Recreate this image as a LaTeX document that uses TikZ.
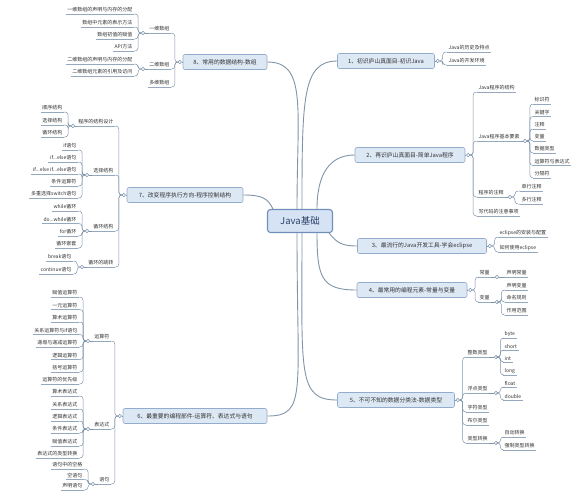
\documentclass[tikz,border=0pt]{standalone}
\usepackage{fontspec}
\setmainfont{Noto Sans CJK SC}
\usetikzlibrary{calc}
\definecolor{lcol}{RGB}{128,148,172}
\definecolor{ucol}{RGB}{150,168,190}
\definecolor{tfill}{RGB}{221,232,245}
\definecolor{tborder}{RGB}{148,172,204}
\definecolor{cfill}{RGB}{214,227,244}
\definecolor{cborder}{RGB}{112,142,186}
\definecolor{ctext}{RGB}{45,65,105}
\definecolor{ttext}{RGB}{50,50,50}
\begin{document}
\begin{tikzpicture}[x=1pt,y=-1pt,
  every node/.style={text=ttext},
  ctr/.style={draw=cborder, line width=1.1pt, fill=cfill, rounded corners=3pt, font=\fontsize{9.5}{11}\selectfont, text=ctext, minimum width=65pt, minimum height=23pt, inner sep=0pt},
  topic/.style={draw=tborder, line width=0.6pt, fill=tfill, rounded corners=2pt, font=\fontsize{5.8}{7}\selectfont, minimum height=15pt, inner sep=0pt},
  uline/.style={draw=ucol, line width=0.5pt},
  sub/.style={font=\fontsize{5}{6}\selectfont, inner xsep=1.5pt, inner ysep=1.5pt, append after command={(\tikzlastnode.south west) edge[uline] (\tikzlastnode.south east)}},
  sr/.style={sub, anchor=south west},
  sl/.style={sub, anchor=south east},
  knob/.style={circle, draw=lcol, fill=white, line width=0.4pt, inner sep=0pt, minimum size=3.5pt},
  link/.style={draw=lcol, line width=0.5pt, rounded corners=3pt},
  mainlink/.style={draw=lcol, line width=0.9pt},
]
\fill[white] (0,0) rectangle (588,491);
\useasboundingbox (0,0) rectangle (588,491);

% centre
\node[ctr] (c) at (300,221) {Java基础};

% ---------------- branch 1
\node[topic, minimum width=97pt] (b1) at (386,61) {1、初识庐山真面目-初识Java};
\node[knob, anchor=west] (k1) at ($(b1.east)+(1,0)$) {};
\draw[link] (b1.east) -- (k1.west);
\node[sr] (c11) at (447,52) {Java的历史及特点};
\node[sr] (c12) at (447,65) {Java的开发环境};
\foreach \n in {c11,c12} \draw[link] (k1.east) -- ++(3,0) |- (\n.south west);

% ---------------- branch 2
\node[topic, minimum width=110pt] (b2) at (410,155) {2、再识庐山真面目-简单Java程序};
\node[knob, anchor=west] (k2) at ($(b2.east)+(1,0)$) {};
\draw[link] (b2.east) -- (k2.west);
\node[sr] (c21) at (477,92) {Java程序的结构};
\node[sr] (c22) at (477,141) {Java程序基本要素};
\node[sr] (c23) at (477,197) {程序的注释};
\node[sr] (c24) at (477,216) {写代码的注意事项};
\foreach \n in {c21,c22,c23,c24} \draw[link] (k2.east) -- ++(3,0) |- (\n.south west);
\node[knob] (k22) at (525,141) {};
\draw[link] (c22.south east) -- (k22.west);
\node[sr] (g221) at (533,104) {标识符};
\node[sr] (g222) at (533,116.5) {关键字};
\node[sr] (g223) at (533,129) {注释};
\node[sr] (g224) at (533,141) {变量};
\node[sr] (g225) at (533,153) {数据类型};
\node[sr] (g226) at (533,165.5) {运算符与表达式};
\node[sr] (g227) at (533,178) {分隔符};
\foreach \n in {g221,g222,g223,g224,g225,g226,g227} \draw[link] (k22.east) -- ++(3,0) |- (\n.south west);
\node[knob] (k23) at (510,197) {};
\draw[link] (c23.south east) -- (k23.west);
\node[sr] (g231) at (520,191) {单行注释};
\node[sr] (g232) at (520,204) {多行注释};
\foreach \n in {g231,g232} \draw[link] (k23.east) -- ++(3,0) |- (\n.south west);

% ---------------- branch 3
\node[topic, minimum width=129pt] (b3) at (422,246) {3、最流行的Java开发工具-学会eclipse};
\node[knob, anchor=west] (k3) at ($(b3.east)+(1,0)$) {};
\draw[link] (b3.east) -- (k3.west);
\node[sr] (c31) at (498,237) {eclipse的安装与配置};
\node[sr] (c32) at (498,252) {如何使用eclipse};
\foreach \n in {c31,c32} \draw[link] (k3.east) -- ++(3,0) |- (\n.south west);

% ---------------- branch 4
\node[topic, minimum width=110pt] (b4) at (412,290) {4、最常用的编程元素-常量与变量};
\node[knob, anchor=west] (k4) at ($(b4.east)+(1,0)$) {};
\draw[link] (b4.east) -- (k4.west);
\node[sr] (c41) at (478,277) {常量};
\node[sr] (c42) at (478,302) {变量};
\foreach \n in {c41,c42} \draw[link] (k4.east) -- ++(3,0) |- (\n.south west);
\node[knob] (k41) at (497,277) {};
\draw[link] (c41.south east) -- (k41.west);
\node[sr] (g411) at (505,277) {声明常量};
\draw[link] (k41.east) -- (g411.south west);
\node[knob] (k42) at (497,302) {};
\draw[link] (c42.south east) -- (k42.west);
\node[sr] (g421) at (505,290) {声明变量};
\node[sr] (g422) at (505,302) {命名规则};
\node[sr] (g423) at (505,315) {作用范围};
\foreach \n in {g421,g422,g423} \draw[link] (k42.east) -- ++(2.5,0) |- (\n.south west);

% ---------------- branch 5
\node[topic, minimum width=117pt] (b5) at (396,400) {5、不可不知的数据分类法-数据类型};
\node[knob, anchor=west] (k5) at ($(b5.east)+(1,0)$) {};
\draw[link] (b5.east) -- (k5.west);
\node[sr] (c51) at (466,357) {整数类型};
\node[sr] (c52) at (466,393) {浮点类型};
\node[sr] (c53) at (466,412) {字符类型};
\node[sr] (c54) at (466,425) {布尔类型};
\node[sr] (c55) at (466,443) {类型转换};
\foreach \n in {c51,c52,c53,c54,c55} \draw[link] (k5.east) -- ++(3,0) |- (\n.south west);
\node[knob] (k51) at (496,357) {};
\draw[link] (c51.south east) -- (k51.west);
\node[sr] (g511) at (503,338) {byte};
\node[sr] (g512) at (503,350) {short};
\node[sr] (g513) at (503,362) {int};
\node[sr] (g514) at (503,375) {long};
\foreach \n in {g511,g512,g513,g514} \draw[link] (k51.east) -- ++(2.5,0) |- (\n.south west);
\node[knob] (k52) at (496,393) {};
\draw[link] (c52.south east) -- (k52.west);
\node[sr] (g521) at (503,387) {float};
\node[sr] (g522) at (503,400) {double};
\foreach \n in {g521,g522} \draw[link] (k52.east) -- ++(2.5,0) |- (\n.south west);
\node[knob] (k55) at (496,443) {};
\draw[link] (c55.south east) -- (k55.west);
\node[sr] (g551) at (503,437) {自动转换};
\node[sr] (g552) at (503,450) {强制类型转换};
\foreach \n in {g551,g552} \draw[link] (k55.east) -- ++(2.5,0) |- (\n.south west);

% ---------------- branch 8
\node[topic, minimum width=84pt] (b8) at (225,62) {8、常用的数据结构-数组};
\node[knob, anchor=east] (k8) at ($(b8.west)+(-1,0)$) {};
\draw[link] (b8.west) -- (k8.east);
\node[sl] (c81) at (171,33) {一维数组};
\node[sl] (c82) at (171,69) {二维数组};
\node[sl] (c83) at (171,87) {多维数组};
\foreach \n in {c81,c82,c83} \draw[link] (k8.west) -- ++(-3,0) |- (\n.south east);
\node[knob] (k81) at (143,33) {};
\draw[link] (c81.south west) -- (k81.east);
\node[sl] (g811) at (134,14) {一维数组的声明与内存的分配};
\node[sl] (g812) at (134,27) {数组中元素的表示方法};
\node[sl] (g813) at (134,39) {数组初值的赋值};
\node[sl] (g814) at (134,51) {API方法};
\foreach \n in {g811,g812,g813,g814} \draw[link] (k81.west) -- ++(-3,0) |- (\n.south east);
\node[knob] (k82) at (143,69) {};
\draw[link] (c82.south west) -- (k82.east);
\node[sl] (g821) at (134,64) {二维数组的声明与内存的分配};
\node[sl] (g822) at (134,76) {二维数组元素的引用及访问};
\foreach \n in {g821,g822} \draw[link] (k82.west) -- ++(-3,0) |- (\n.south east);

% ---------------- branch 7
\node[topic, minimum width=116pt] (b7) at (185,195) {7、改变程序执行方向-程序控制结构};
\node[knob, anchor=east] (k7) at ($(b7.west)+(-1,0)$) {};
\draw[link] (b7.west) -- (k7.east);
\node[sl] (c71) at (115,126) {程序的结构设计};
\node[sl] (c72) at (115,175) {选择结构};
\node[sl] (c73) at (115,231) {循环结构};
\node[sl] (c74) at (115,267) {循环的跳转};
\foreach \n in {c71,c72,c73,c74} \draw[link] (k7.west) -- ++(-3,0) |- (\n.south east);
\node[knob] (k71) at (73,126) {};
\draw[link] (c71.south west) -- (k71.east);
\node[sl] (g711) at (64,112) {顺序结构};
\node[sl] (g712) at (64,125) {选择结构};
\node[sl] (g713) at (64,137) {循环结构};
\foreach \n in {g711,g712,g713} \draw[link] (k71.west) -- ++(-3,0) |- (\n.south east);
\node[knob] (k72) at (87,175) {};
\draw[link] (c72.south west) -- (k72.east);
\node[sl] (g721) at (78,150) {if语句};
\node[sl] (g722) at (78,162) {if...else语句};
\node[sl] (g723) at (78,174) {if...else if...else语句};
\node[sl] (g724) at (78,186) {条件运算符};
\node[sl] (g725) at (78,198) {多重选择switch语句};
\foreach \n in {g721,g722,g723,g724,g725} \draw[link] (k72.west) -- ++(-3,0) |- (\n.south east);
\node[knob] (k73) at (87,231) {};
\draw[link] (c73.south west) -- (k73.east);
\node[sl] (g731) at (78,211) {while循环};
\node[sl] (g732) at (78,223.5) {do...while循环};
\node[sl] (g733) at (78,236) {for循环};
\node[sl] (g734) at (78,248) {循环嵌套};
\foreach \n in {g731,g732,g733,g734} \draw[link] (k73.west) -- ++(-3,0) |- (\n.south east);
\node[knob] (k74) at (82,267) {};
\draw[link] (c74.south west) -- (k74.east);
\node[sl] (g741) at (73,261) {break语句};
\node[sl] (g742) at (73,274) {continue语句};
\foreach \n in {g741,g742} \draw[link] (k74.west) -- ++(-3,0) |- (\n.south east);

% ---------------- branch 6
\node[topic, minimum width=144pt] (b6) at (195,416) {6、最重要的编程部件-运算符、表达式与语句};
\node[knob, anchor=east] (k6) at ($(b6.west)+(-1,0)$) {};
\draw[link] (b6.west) -- (k6.east);
\node[sl] (c61) at (111,341) {运算符};
\node[sl] (c62) at (111,429) {表达式};
\node[sl] (c63) at (111,484) {语句};
\foreach \n in {c61,c62,c63} \draw[link] (k6.west) -- ++(-3,0) |- (\n.south east);
\node[knob] (k61) at (88,341) {};
\draw[link] (c61.south west) -- (k61.east);
\node[sl] (g611) at (79,297) {赋值运算符};
\node[sl] (g612) at (79,309.5) {一元运算符};
\node[sl] (g613) at (79,322) {算术运算符};
\node[sl] (g614) at (79,334.5) {关系运算符与if语句};
\node[sl] (g615) at (79,347) {递增与递减运算符};
\node[sl] (g616) at (79,359.5) {逻辑运算符};
\node[sl] (g617) at (79,372) {括号运算符};
\node[sl] (g618) at (79,384) {运算符的优先级};
\foreach \n in {g611,g612,g613,g614,g615,g616,g617,g618} \draw[link] (k61.west) -- ++(-3,0) |- (\n.south east);
\node[knob] (k62) at (88,429) {};
\draw[link] (c62.south west) -- (k62.east);
\node[sl] (g621) at (79,396) {算术表达式};
\node[sl] (g622) at (79,409) {关系表达式};
\node[sl] (g623) at (79,421) {逻辑表达式};
\node[sl] (g624) at (79,433) {条件表达式};
\node[sl] (g625) at (79,446) {赋值表达式};
\node[sl] (g626) at (79,458) {表达式的类型转换};
\foreach \n in {g621,g622,g623,g624,g625,g626} \draw[link] (k62.west) -- ++(-3,0) |- (\n.south east);
\node[knob] (k63) at (93,484) {};
\draw[link] (c63.south west) -- (k63.east);
\node[sl] (g631) at (84,469) {语句中的空格};
\node[sl] (g632) at (84,479.5) {空语句};
\node[sl] (g633) at (84,490) {声明语句};
\foreach \n in {g631,g632,g633} \draw[link] (k63.west) -- ++(-3,0) |- (\n.south east);

% ---------------- main connectors
\draw[mainlink] ($(c.north)+(-3,0)$) .. controls +(0,-100) and +(40,0) .. (b8.east);
\draw[mainlink] ($(c.north)+(2,0)$) .. controls +(0,-110) and +(-35,0) .. (b1.west);
\draw[mainlink] ($(c.north)+(17,0)$) .. controls +(0,-35) and +(-25,0) .. (b2.west);
\draw[mainlink] ($(c.north west)+(6,0)$) .. controls +(-5,-10) and +(20,0) .. (b7.east);
\draw[mainlink] ($(c.south east)+(-4,0)$) .. controls +(8,10) and +(-15,0) .. (b3.west);
\draw[mainlink] ($(c.south)+(17,0)$) .. controls +(0,45) and +(-35,0) .. (b4.west);
\draw[mainlink] ($(c.south)+(2,0)$) .. controls +(0,140) and +(-40,0) .. (b5.west);
\draw[mainlink] ($(c.south)+(-3,0)$) .. controls +(0,160) and +(40,0) .. (b6.east);
\end{tikzpicture}
\end{document}
